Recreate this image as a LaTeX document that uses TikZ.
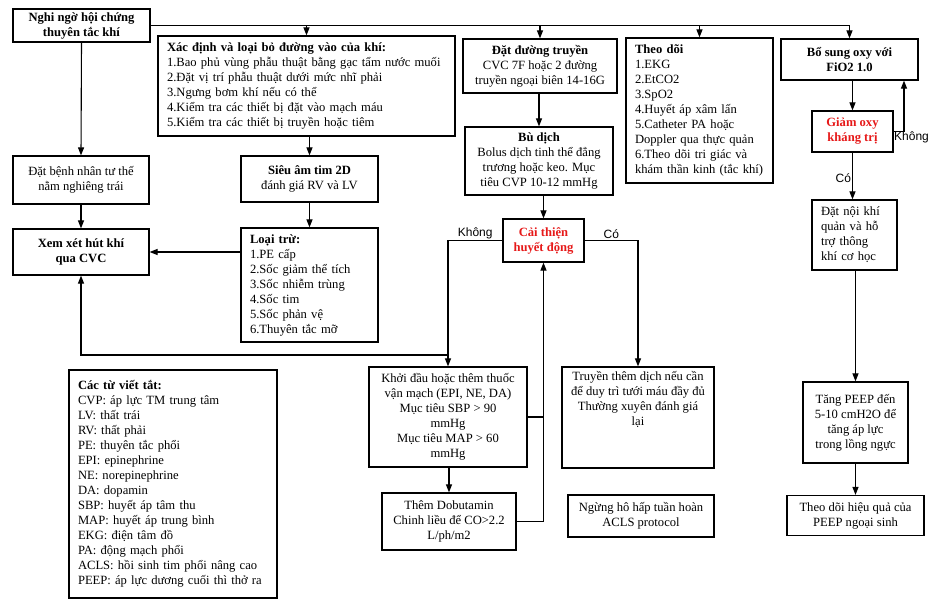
\documentclass[tikz,border=0pt]{standalone}
\usepackage{fontspec}
\setmainfont{Liberation Serif}
\newfontfamily\labelsans{Liberation Sans}
\usetikzlibrary{arrows.meta}
\newcommand\boxfont{\fontsize{12.6}{15}\selectfont}
\definecolor{alertred}{RGB}{230,25,25}
\tikzset{
  box/.style={draw, line width=1.2pt, inner xsep=3pt, inner ysep=0pt, align=center, font=\boxfont},
  leftbox/.style={box, align=left, inner xsep=9pt},
  boldbox/.style={box, font=\boxfont\bfseries},
  redbox/.style={box, text=alertred, font=\boxfont\bfseries},
  arr/.style={line width=1.1pt, -{Triangle[length=8pt,width=6pt]}},
  line/.style={line width=1.1pt},
  answer/.style={font=\labelsans\fontsize{12}{14}\selectfont, inner sep=1pt}
}
\begin{document}
\begin{tikzpicture}[x=1pt,y=1pt,yscale=-1,xscale=1]
\useasboundingbox (0,0) rectangle (950,608);

% left column
\node[boldbox, minimum width=137pt, minimum height=33pt] (nghi) at (81.5,25.5) {Nghi ngờ hội chứng\\thuyên tắc khí};
\node[box, minimum width=136pt, minimum height=48pt] (datbn) at (81,180) {Đặt bệnh nhân tư thế\\nằm nghiêng trái};
\node[boldbox, minimum width=136pt, minimum height=46pt] (xemxet) at (81,252) {Xem xét hút khí\\qua CVC};
\node[leftbox, text width=190pt, minimum height=228pt] (tuviet) at (173,484) {\textbf{Các từ viết tắt:}\\CVP: áp lực TM trung tâm\\LV: thất trái\\RV: thất phải\\PE: thuyên tắc phổi\\EPI: epinephrine\\NE: norepinephrine\\DA: dopamin\\SBP: huyết áp tâm thu\\MAP: huyết áp trung bình\\EKG: điện tâm đồ\\PA: động mạch phổi\\ACLS: hồi sinh tim phổi nâng cao\\PEEP: áp lực dương cuối thì thở ra};

% second column
\node[leftbox, text width=279pt, minimum height=100pt] (xacdinh) at (306.5,86) {\textbf{Xác định và loại bỏ đường vào của khí:}\\1.Bao phủ vùng phẫu thuật bằng gạc tẩm nước muối\\2.Đặt vị trí phẫu thuật dưới mức nhĩ phải\\3.Ngưng bơm khí nếu có thể\\4.Kiểm tra các thiết bị đặt vào mạch máu\\5.Kiểm tra các thiết bị truyền hoặc tiêm};
\node[box, minimum width=137pt, minimum height=46pt] (sieuam) at (309.5,179) {\textbf{Siêu âm tim 2D}\\đánh giá RV và LV};
\node[leftbox, text width=119pt, minimum height=114pt] (loaitru) at (309.5,285) {\textbf{Loại trừ:}\\1.PE cấp\\2.Sốc giảm thể tích\\3.Sốc nhiễm trùng\\4.Sốc tim\\5.Sốc phản vệ\\6.Thuyên tắc mỡ};

% middle column
\node[box, minimum width=154pt, minimum height=54pt] (dat) at (540,66) {\textbf{Đặt đường truyền}\\CVC 7F hoặc 2 đường\\truyền ngoại biên 14-16G};
\node[box, minimum width=148pt, minimum height=68pt] (budich) at (539,161) {\textbf{Bù dịch}\\Bolus dịch tinh thể đẳng\\trương hoặc keo. Mục\\tiêu CVP 10-12 mmHg};
\node[redbox, minimum width=81pt, minimum height=43pt] (caithien) at (543.5,240.5) {Cải thiện\\huyết động};
\node[box, minimum width=158pt, minimum height=100pt] (khoidau) at (448,417) {Khởi đầu hoặc thêm thuốc\\vận mạch (EPI, NE, DA)\\Mục tiêu SBP > 90\\mmHg\\Mục tiêu MAP > 60\\mmHg};
\node[box, minimum width=134pt, minimum height=57pt] (dobu) at (449,521.5) {Thêm Dobutamin\\Chinh liều để CO>2.2\\L/ph/m2};
\node[box, inner ysep=4pt] (truyen) at (638,417.5) {\parbox[c][93pt][t]{146pt}{\centering Truyền thêm dịch nếu cần\\để duy trì tưới máu đầy đủ\\Thường xuyên đánh giá\\lại}};
\node[box, minimum width=146pt, minimum height=42pt] (ngung) at (641,516) {Ngừng hô hấp tuần hoàn\\ACLS protocol};

% monitoring
\node[leftbox, text width=129pt, minimum height=145pt] (theodoi) at (699.5,110.5) {\textbf{Theo dõi}\\1.EKG\\2.EtCO2\\3.SpO2\\4.Huyết áp xâm lấn\\5.Catheter PA hoặc\\Doppler qua thực quản\\6.Theo dõi tri giác và\\khám thần kinh (tắc khí)};

% right column
\node[boldbox, minimum width=137pt, minimum height=41pt] (bosung) at (849.5,59.5) {Bổ sung oxy với\\FiO2 1.0};
\node[redbox, minimum width=81pt, minimum height=41pt] (giam) at (852.5,131.5) {Giảm oxy\\kháng trị};
\node[leftbox, text width=67pt, minimum height=70pt] (noikhi) at (854.5,235) {Đặt nội khí\\quản và hỗ\\trợ thông\\khí cơ học};
\node[box, minimum width=105pt, minimum height=81pt] (tangpeep) at (855.5,422.5) {Tăng PEEP đến\\5-10 cmH2O để\\tăng áp lực\\trong lồng ngực};
\node[box, minimum width=137pt, minimum height=40pt] (hieuqua) at (855.5,515.5) {Theo dõi hiệu quả của\\PEEP ngoại sinh};

% top distribution line
\draw[arr] (nghi.east) -| (bosung.north);
\draw[arr] (nghi.east -| xacdinh.north) -- (xacdinh.north);
\draw[arr] (nghi.east -| dat.north) -- (dat.north);
\draw[arr] (nghi.east -| theodoi.north) -- (theodoi.north);

% left branch
\draw[arr] (nghi.south) -- (datbn.north);
\draw[arr] (datbn.south) -- (xemxet.north);
\draw[arr] (sieuam.north |- xacdinh.south) -- (sieuam.north);
\draw[arr] (sieuam.south) -- (loaitru.north);
\draw[arr] (xemxet.east -| loaitru.west) -- (xemxet.east);

% haemodynamics
\draw[arr] (budich.north |- dat.south) -- (budich.north);
\draw[arr] (caithien.north |- budich.south) -- (caithien.north);
\draw[arr] (caithien.west) -| node[answer, above, pos=0.25] {Không} (khoidau.north);
\draw[arr] (khoidau.north |- 0,355) -| (xemxet.south);
\draw[arr] (caithien.east) -| node[answer, above, pos=0.25] {Có} (truyen.north);
\draw[arr] (dobu.north |- khoidau.south) -- (dobu.north);
\draw[arr] (dobu.east) -| (caithien.south);
\draw[line] (khoidau.east) -- (khoidau.east -| caithien.south);

% oxygen
\draw[arr] (giam.north |- bosung.south) -- (giam.north);
\draw[arr] (giam.east) -| (bosung.south -| 904,0);
\node[answer, anchor=west] (khong) at (893,137) {Không};
\draw[arr] (giam.south) -- node[answer, left, pos=0.55] {Có} (giam.south |- noikhi.north);
\draw[arr] (tangpeep.north |- noikhi.south) -- (tangpeep.north);
\draw[arr] (tangpeep.south) -- (hieuqua.north);

\end{tikzpicture}
\end{document}
